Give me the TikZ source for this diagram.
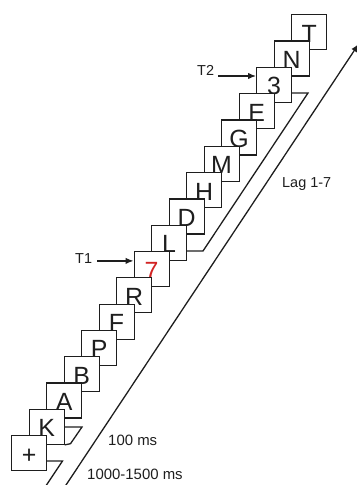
\documentclass[tikz,border=0pt]{standalone}
\usepackage{fontspec}
\setmainfont{Liberation Sans}
\usetikzlibrary{arrows.meta}
\definecolor{sevenred}{RGB}{210,35,35}
\definecolor{ink}{RGB}{30,30,30}
\begin{document}
\begin{tikzpicture}[x=1bp,y=-1bp,
  sq/.style={draw=ink, fill=white, line width=1.2bp, minimum size=35bp, inner sep=0pt,
             anchor=north west, font=\fontsize{25}{25}\selectfont, text=ink,
             text height=20bp, text depth=0pt},
  ln/.style={draw=ink, line width=1.3bp},
  arr/.style={ln, -{Latex[length=8bp,width=6.5bp]}},
  lab/.style={font=\fontsize{15}{15}\selectfont, inner sep=0pt, text=ink},
  tlab/.style={font=\fontsize{14.5}{14.5}\selectfont, inner sep=0pt, text=ink, anchor=base west}]
\useasboundingbox (0,0) rectangle (356,485);

% stimulus squares, drawn from the top one down so lower squares lie in front
\foreach \i/\t in {16/T,15/N,14/3,13/E,12/G,11/M,10/H,9/D,8/L,7/{\textcolor{sevenred}{7}},6/R,5/F,4/P,3/B,2/A,1/K,0/+}
  \node[sq] (s\i) at ({11+17.5*\i},{435-26.3*\i}) {\t};

% fixation bracket (1000-1500 ms)
\coordinate (fA) at (62.5,461);
\coordinate (fB) at (44.5,488);
\draw[ln] (s0.east |- fA) -- (fA) -- (fB);

% single item bracket (100 ms)
\coordinate (kA) at (82,427);
\coordinate (kB) at (70.5,443.7);
\draw[ln] (s1.east |- kA) -- (kA) -- (kB) -- (s1.south east);

% lag bracket
\coordinate (gA) at (203,251);
\coordinate (gB) at (308,93);
\draw[ln] (s8.east |- s7.north) -- (gA) -- (gB) -- (s14.east |- s13.north);

% time axis
\coordinate (tA) at (62.7,490);
\coordinate (tB) at (358.6,44);
\draw[arr] (tA) -- (tB);

% target labels
\node[tlab] (t1) at (75,263) {T1};
\coordinate (a1) at ([yshift=-10bp]s7.north west);
\draw[arr, shorten <=5bp] (t1.east |- a1) -- (a1);

\node[tlab] (t2) at (197,76) {T2};
\coordinate (a2) at ([yshift=-9.2bp]s14.north west);
\draw[arr, shorten <=4bp] (t2.east |- a2) -- (a2);

\node[tlab] (lag) at (282,188) {Lag 1-7};
\node[lab, anchor=base west] (ms1) at (108,445) {100 ms};
\node[lab, anchor=base west] (ms2) at (87,479) {1000-1500 ms};
\end{tikzpicture}
\end{document}
